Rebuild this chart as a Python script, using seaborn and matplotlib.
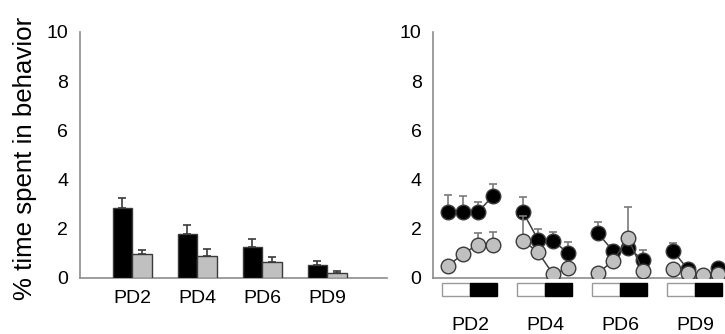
import numpy as np
import pandas as pd
import seaborn as sns
import matplotlib
matplotlib.use("Agg")
import matplotlib.pyplot as plt
from matplotlib.patches import Rectangle

# ---------------- data ----------------
days = ["PD2", "PD4", "PD6", "PD9"]
series = ["black", "gray"]

bar_black = [2.82, 1.77, 1.25, 0.53]
bar_black_sem = [0.42, 0.39, 0.33, 0.14]
bar_gray = [0.95, 0.89, 0.63, 0.20]
bar_gray_sem = [0.18, 0.29, 0.21, 0.07]

bins_per_day = 4
circ_black = [2.67, 2.67, 2.67, 3.33,
              2.67, 1.55, 1.51, 1.00,
              1.81, 1.09, 1.22, 0.72,
              1.09, 0.34, 0.02, 0.38]
circ_black_sem = [0.69, 0.66, 0.43, 0.48,
                  0.60, 0.42, 0.37, 0.44,
                  0.45, 0.24, 0.10, 0.41,
                  0.34, 0.10, 0.05, 0.10]
circ_gray = [0.48, 0.97, 1.35, 1.35,
             1.51, 1.04, 0.15, 0.38,
             0.18, 0.69, 1.61, 0.27,
             0.34, 0.18, 0.11, 0.14]
circ_gray_sem = [0.15, 0.20, 0.46, 0.49,
                 1.00, 0.20, 0.10, 0.10,
                 0.10, 0.10, 1.25, 0.10,
                 0.10, 0.05, 0.05, 0.05]

# ---------------- style ----------------
sns.set_style("white")
plt.rcParams["font.family"] = ["Liberation Sans", "DejaVu Sans"]
plt.rcParams["text.color"] = "black"
plt.rcParams["xtick.labelcolor"] = "black"
plt.rcParams["ytick.labelcolor"] = "black"

W, H = 725, 334
fig = plt.figure(figsize=(W / 100, H / 100), dpi=100)

spine_col = "#8c8c8c"
edge_col = "#3a3a3a"
gray_face = "#c0c0c0"

y0_px, y10_px = 277.7, 32.0
bottom = 1 - y0_px / H
height = (y0_px - y10_px) / H

ax1 = fig.add_axes([80 / W, bottom, (387 - 80) / W, height])
ax2 = fig.add_axes([432.7 / W, bottom, (W - 432.7) / W, height])

# ---------------- left: bars ----------------
bar_df = pd.DataFrame({
    "day": days * 2,
    "series": ["black"] * 4 + ["gray"] * 4,
    "value": bar_black + bar_gray,
    "sem": bar_black_sem + bar_gray_sem,
})

sns.barplot(data=bar_df, x="day", y="value", hue="series", order=days,
            hue_order=series, palette={"black": "black", "gray": gray_face},
            width=0.6, errorbar=None, edgecolor=edge_col, linewidth=1.0,
            saturation=1, legend=False, ax=ax1, zorder=3)

for cont, sems in zip(ax1.containers, [bar_black_sem, bar_gray_sem]):
    xs = [p.get_x() + p.get_width() / 2 for p in cont.patches]
    hs = [p.get_height() for p in cont.patches]
    ax1.errorbar(xs, hs, yerr=[np.zeros(len(sems)), sems], fmt="none",
                 ecolor=edge_col, elinewidth=1.2, capsize=3, capthick=1.2,
                 zorder=2)

ax1.set_xlim(-0.8, 3.92)
ax1.set_ylim(0, 10)
ax1.set_yticks([0, 2, 4, 6, 8, 10])
ax1.set_xlabel("")
ax1.set_ylabel("")
ax1.tick_params(axis="x", length=0, pad=9, labelsize=14, labelcolor="black")
ax1.tick_params(axis="y", direction="in", length=4, width=1.1,
                color=spine_col, pad=8.5, labelsize=14, labelcolor="black")

fig.text(25 / W, 1 - 158 / H, "% time spent in behavior", rotation=90,
         ha="center", va="center", fontsize=18.6, color="black")

# ---------------- right: circadian points ----------------
rows = []
for di, d in enumerate(days):
    for b in range(bins_per_day):
        i = di * bins_per_day + b
        rows.append({"day": d, "x": di * (bins_per_day + 1) + b,
                     "black": circ_black[i], "black_sem": circ_black_sem[i],
                     "gray": circ_gray[i], "gray_sem": circ_gray_sem[i]})
cdf = pd.DataFrame(rows)

for s, face, z in [("black", "black", 4), ("gray", gray_face, 5)]:
    ax2.errorbar(cdf["x"], cdf[s], yerr=[np.zeros(len(cdf)), cdf[s + "_sem"]],
                 fmt="none", ecolor="#7a7a7a", elinewidth=1.2, capsize=3,
                 capthick=1.2, zorder=z - 0.5)
    sns.lineplot(data=cdf, x="x", y=s, units="day", estimator=None,
                 color="#404040", linewidth=1.1, marker="o", markersize=10.5,
                 markerfacecolor=face, markeredgecolor=edge_col,
                 markeredgewidth=1.0, ax=ax2, zorder=z)

ax2.set_xlim(-1.02, 18.47)
ax2.set_ylim(0, 10)
ax2.set_yticks([0, 2, 4, 6, 8, 10])
ax2.set_xticks(np.arange(0, 19))
ax2.set_xticklabels([])
ax2.set_xlabel("")
ax2.set_ylabel("")
ax2.tick_params(axis="x", direction="in", length=4, width=1.1, color=spine_col)
ax2.tick_params(axis="y", direction="in", length=4, width=1.1,
                color=spine_col, pad=8, labelsize=14, labelcolor="black")

# light/dark bars and day labels below the axis
for di, d in enumerate(days):
    start = di * (bins_per_day + 1)
    ax2.add_patch(Rectangle((start - 0.4, -0.73), 1.85, 0.5, facecolor="white",
                            edgecolor="#9a9a9a", linewidth=1.0, clip_on=False))
    ax2.add_patch(Rectangle((start + 1.45, -0.73), 1.85, 0.5, facecolor="black",
                            edgecolor="black", linewidth=1.0, clip_on=False))
    ax2.text(start + 1.5, -1.95, d, ha="center", va="center", fontsize=14,
             color="black", clip_on=False)

for ax in (ax1, ax2):
    for side in ("top", "right"):
        ax.spines[side].set_visible(False)
    for side in ("left", "bottom"):
        ax.spines[side].set_color(spine_col)
        ax.spines[side].set_linewidth(1.2)
    ax.set_facecolor("none")

fig.savefig("out.png", dpi=100)
